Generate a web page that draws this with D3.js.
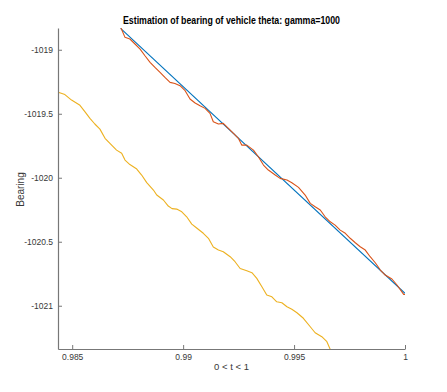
<!DOCTYPE html>
<html>
<head>
<meta charset="utf-8">
<script src="https://cdn.jsdelivr.net/npm/d3@7"></script>
<style>
  html, body { margin: 0; padding: 0; background: #fff; }
  svg { display: block; font-family: "Liberation Sans", Arial, Helvetica, sans-serif; }
</style>
</head>
<body>
<svg id="chart" width="447" height="392"></svg>
<script>
// ---- data ----
const titleText = "Estimation of bearing of vehicle theta: gamma=1000";
const xLabelText = "0 < t < 1";
const yLabelText = "Bearing";

const xTicks = [0.985, 0.99, 0.995, 1];
const xTickLabels = ["0.985", "0.99", "0.995", "1"];
const yTicks = [-1019, -1019.5, -1020, -1020.5, -1021];
const yTickLabels = ["-1019", "-1019.5", "-1020", "-1020.5", "-1021"];
const xLimits = [0.98436, 1];
const yLimits = [-1021.338, -1018.83];

// true bearing (blue)
const trueT = [0.98718, 1.0];
const trueV = [-1018.833, -1020.903];

// estimate (red)
const estT = [0.98720, 0.98738, 0.98760, 0.98783, 0.98806, 0.98828, 0.98851, 0.98873, 0.98896, 0.98918,
  0.98941, 0.98963, 0.98986, 0.99009, 0.99031, 0.99054, 0.99076, 0.99099, 0.99121, 0.99136,
  0.99159, 0.99181, 0.99204, 0.99227, 0.99249, 0.99264, 0.99287, 0.99317, 0.99339, 0.99362,
  0.99384, 0.99415, 0.99437, 0.99468, 0.99490, 0.99520, 0.99550, 0.99573, 0.99595, 0.99618,
  0.99640, 0.99663, 0.99685, 0.99708, 0.99731, 0.99753, 0.99776, 0.99798, 0.99821, 0.99843,
  0.99866, 0.99889, 0.99911, 0.99941, 0.99964, 0.99994, 1.0];
const estV = [-1018.830, -1018.903, -1018.916, -1018.955, -1018.995, -1019.047, -1019.098, -1019.138, -1019.177, -1019.216,
  -1019.255, -1019.263, -1019.281, -1019.320, -1019.385, -1019.416, -1019.438, -1019.458, -1019.497, -1019.563,
  -1019.580, -1019.575, -1019.614, -1019.653, -1019.692, -1019.745, -1019.745, -1019.784, -1019.836, -1019.901,
  -1019.940, -1019.979, -1020.005, -1020.018, -1020.039, -1020.075, -1020.135, -1020.200, -1020.227, -1020.252,
  -1020.305, -1020.344, -1020.370, -1020.409, -1020.434, -1020.473, -1020.508, -1020.539, -1020.565, -1020.617,
  -1020.664, -1020.721, -1020.760, -1020.791, -1020.838, -1020.911, -1020.912];

// other estimate (yellow)
const altT = [0.98437, 0.98467, 0.98497, 0.98535, 0.98557, 0.98580, 0.98602, 0.98625, 0.98648, 0.98670,
  0.98700, 0.98723, 0.98738, 0.98760, 0.98791, 0.98813, 0.98836, 0.98866, 0.98881, 0.98911,
  0.98933, 0.98950, 0.98971, 0.98994, 0.99016, 0.99039, 0.99061, 0.99091, 0.99114, 0.99136,
  0.99159, 0.99181, 0.99212, 0.99234, 0.99257, 0.99287, 0.99310, 0.99332, 0.99355, 0.99377,
  0.99400, 0.99422, 0.99445, 0.99468, 0.99490, 0.99513, 0.99542, 0.99573, 0.99595, 0.99625,
  0.99648, 0.99663, 0.99667];
const altV = [-1019.332, -1019.350, -1019.393, -1019.434, -1019.484, -1019.536, -1019.580, -1019.620, -1019.692, -1019.731,
  -1019.784, -1019.809, -1019.862, -1019.897, -1019.932, -1019.979, -1020.038, -1020.096, -1020.135, -1020.174,
  -1020.221, -1020.241, -1020.245, -1020.266, -1020.305, -1020.362, -1020.393, -1020.434, -1020.473, -1020.541,
  -1020.565, -1020.578, -1020.617, -1020.656, -1020.709, -1020.727, -1020.742, -1020.786, -1020.852, -1020.916,
  -1020.930, -1020.969, -1020.977, -1021.008, -1021.028, -1021.055, -1021.098, -1021.164, -1021.211, -1021.242,
  -1021.281, -1021.341, -1021.362];

// ---- drawing ----
const svg = d3.select("#chart");
const plot = { left: 58, right: 405, top: 28, bottom: 349 };

const x = d3.scaleLinear().domain(xLimits).range([plot.left, plot.right]);
const y = d3.scaleLinear().domain(yLimits).range([plot.bottom, plot.top]);

svg.append("defs").append("clipPath").attr("id", "clip")
  .append("rect")
  .attr("x", plot.left).attr("y", plot.top)
  .attr("width", plot.right - plot.left).attr("height", plot.bottom - plot.top);

const line = d3.line().x(d => x(d[0])).y(d => y(d[1]));
const series = [
  { t: altT, v: altV, color: "#EDB120" },
  { t: trueT, v: trueV, color: "#0072BD" },
  { t: estT, v: estV, color: "#D95319" }
];
const g = svg.append("g").attr("clip-path", "url(#clip)");
[series[1], series[2], series[0]].forEach(s => {
  g.append("path")
    .datum(s.t.map((t, i) => [t, s.v[i]]))
    .attr("d", line)
    .attr("fill", "none")
    .attr("stroke", s.color)
    .attr("stroke-width", 1.1)
    .attr("stroke-linejoin", "round");
});

const axisColor = "#777";
const labelColor = "#383838";

const xAxis = d3.axisBottom(x)
  .tickValues(xTicks)
  .tickFormat((d, i) => xTickLabels[i])
  .tickSizeInner(-4).tickSizeOuter(0).tickPadding(5);
const gx = svg.append("g").attr("transform", `translate(0,${plot.bottom})`).call(xAxis);

const yAxis = d3.axisLeft(y)
  .tickValues(yTicks)
  .tickFormat((d, i) => yTickLabels[i])
  .tickSizeInner(-4).tickSizeOuter(0).tickPadding(5);
const gy = svg.append("g").attr("transform", `translate(${plot.left},0)`).call(yAxis);

[gx, gy].forEach(a => {
  a.select(".domain").attr("stroke", axisColor).attr("stroke-width", 1.2);
  a.selectAll(".tick line").attr("stroke", axisColor).attr("stroke-width", 1);
  a.selectAll(".tick text").attr("fill", labelColor)
    .style("font-size", "8.5px")
    .style("font-family", "'Liberation Sans', Arial, sans-serif");
});

svg.append("text")
  .attr("x", (plot.left + plot.right) / 2).attr("y", 24)
  .attr("text-anchor", "middle")
  .attr("font-weight", "bold")
  .attr("font-size", "10px")
  .attr("fill", "#000")
  .attr("textLength", 217).attr("lengthAdjust", "spacingAndGlyphs")
  .text(titleText);

svg.append("text")
  .attr("x", (plot.left + plot.right) / 2).attr("y", 370)
  .attr("text-anchor", "middle")
  .attr("font-size", "9.5px")
  .attr("fill", labelColor)
  .text(xLabelText);

svg.append("text")
  .attr("transform", `translate(24,${(plot.top + plot.bottom) / 2 + 1}) rotate(-90)`)
  .attr("text-anchor", "middle")
  .attr("font-size", "10px")
  .attr("fill", labelColor)
  .text(yLabelText);
</script>
</body>
</html>
